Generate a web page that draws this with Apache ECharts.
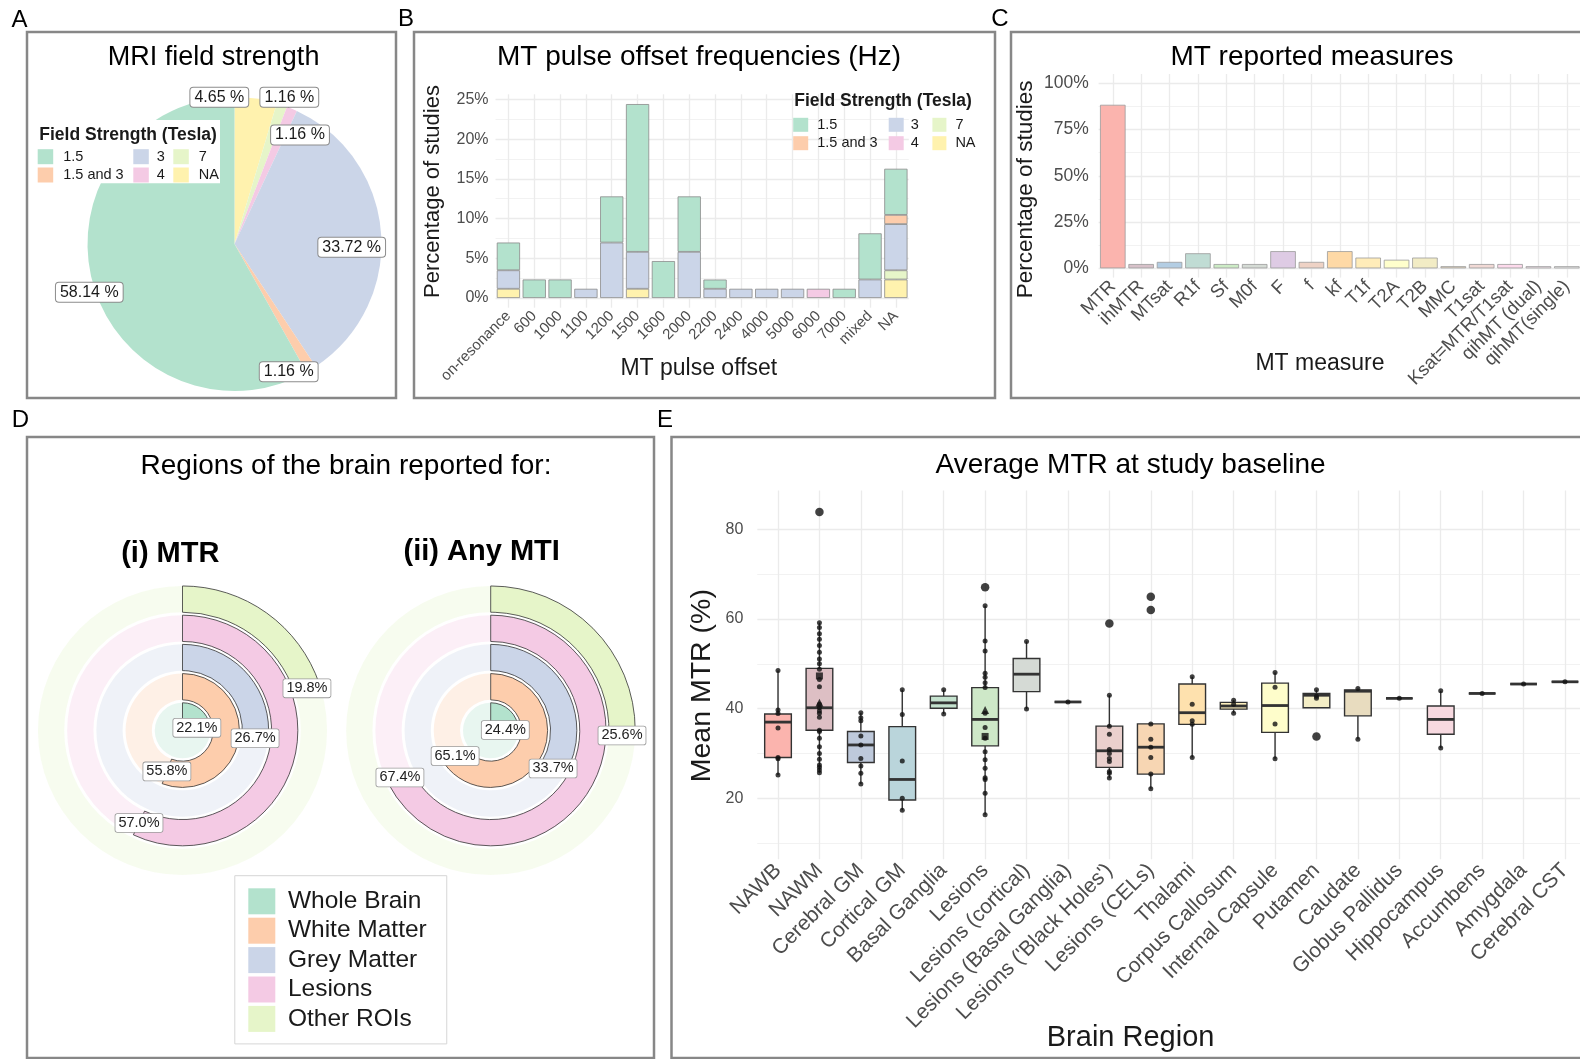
<!DOCTYPE html>
<html>
<head>
<meta charset="utf-8">
<title>MT imaging literature overview</title>
<script src="https://cdn.jsdelivr.net/npm/echarts@6/dist/echarts.min.js"></script>
<style>
  html, body { margin: 0; padding: 0; background: #ffffff; }
  #main { width: 1580px; height: 1059px; }
</style>
</head>
<body>
<div id="main"></div>
<script>
// ---------- data ----------
// A / B: field strength groups
const fieldStrengths = ['1.5', '1.5 and 3', '3', '4', '7', 'NA'];
const fieldStrengthShare = [58.14, 1.16, 33.72, 1.16, 1.16, 4.65];

// B: MT pulse offset (% of studies), split by field strength
const offsetLabels = ['on-resonance', '600', '1000', '1100', '1200', '1500', '1600', '2000',
  '2200', '2400', '4000', '5000', '6000', '7000', 'mixed', 'NA'];
const offsetShare_1_5    = [3.49, 2.33, 2.33, null, 5.81, 18.60, 4.65, 6.98, 1.16, null, null, null, null, 1.16, 5.81, 5.81];
const offsetShare_1_5and3 = [null, null, null, null, null, null, null, null, null, null, null, null, null, null, null, 1.16];
const offsetShare_3      = [2.33, null, null, 1.16, 6.98, 4.65, null, 5.81, 1.16, 1.16, 1.16, 1.16, null, null, 2.33, 5.81];
const offsetShare_4      = [null, null, null, null, null, null, null, null, null, null, null, null, 1.16, null, null, null];
const offsetShare_7      = [null, null, null, null, null, null, null, null, null, null, null, null, null, null, null, 1.16];
const offsetShare_NA     = [1.16, null, null, null, null, 1.16, null, null, null, null, null, null, null, null, null, 2.33];
const offsetTicks = [0, 5, 10, 15, 20, 25];

// C: reported MT measures (% of studies)
const measures = ['MTR', 'ihMTR', 'MTsat', 'R1f', 'Sf', 'M0f', 'F', 'f', 'kf', 'T1f', 'T2A', 'T2B',
  'MMC', 'T1sat', 'Ksat=MTR/T1sat', 'qihMT (dual)', 'qihMT(single)'];
const measureShare = [88.37, 2.33, 3.49, 8.14, 2.33, 2.33, 9.30, 3.49, 9.30, 5.81, 4.65, 5.81,
  1.16, 2.33, 2.33, 1.16, 1.16];
const measureTicks = [0, 25, 50, 75, 100];

// D: brain regions reported (% of studies)
const brainRegions = ['Whole Brain', 'White Matter', 'Grey Matter', 'Lesions', 'Other ROIs'];
const regionShareMTR = [22.1, 55.8, 26.7, 57.0, 19.8];
const regionShareAnyMTI = [24.4, 65.1, 33.7, 67.4, 25.6];

// E: mean baseline MTR per region
const mtrRegions = ['NAWB', 'NAWM', 'Cerebral GM', 'Cortical GM', 'Basal Ganglia', 'Lesions',
  'Lesions (cortical)', 'Lesions (Basal Ganglia)', "Lesions ('Black Holes')", 'Lesions (CELs)',
  'Thalami', 'Corpus Callosum', 'Internal Capsule', 'Putamen', 'Caudate', 'Globus Pallidus',
  'Hippocampus', 'Accumbens', 'Amygdala', 'Cerebral CST'];
// [lower whisker, Q1, median, Q3, upper whisker]
const mtrBoxStats = [
  [25.2, 29.1, 37.0, 38.8, 48.5],
  [25.7, 35.2, 40.2, 49.0, 59.2],
  [23.2, 28.0, 31.9, 34.9, 39.1],
  [17.3, 19.6, 24.2, 36.0, 44.2],
  [38.8, 40.1, 41.3, 42.8, 44.2],
  [16.3, 31.7, 37.6, 44.7, 63.0],
  [39.9, 43.8, 47.7, 51.2, 55.0],
  [41.5, 41.5, 41.5, 41.5, 41.5],
  [24.5, 26.9, 30.6, 36.1, 43.0],
  [22.1, 25.4, 31.4, 36.6, 36.6],
  [29.1, 36.5, 39.1, 45.5, 47.1],
  [39.0, 39.9, 40.6, 41.4, 41.9],
  [28.8, 34.7, 40.7, 45.7, 48.1],
  [40.2, 40.2, 43.0, 43.4, 44.2],
  [33.2, 38.4, 43.9, 44.2, 44.5],
  [42.3, 42.3, 42.3, 42.3, 42.3],
  [31.2, 34.3, 37.6, 40.6, 44.0],
  [43.4, 43.4, 43.4, 43.4, 43.4],
  [45.5, 45.5, 45.5, 45.5, 45.5],
  [46.0, 46.0, 46.0, 46.0, 46.0]
];
// individual study means
const mtrStudyValues = [
  [48.5, 39.7, 38.9, 35.7, 29.1, 28.8, 25.2],
  [59.2, 58.1, 56.7, 55.5, 54.1, 52.6, 51.1, 50.0, 48.8, 46.5, 44.9, 41.0, 40.2, 39.5, 39.0, 38.1,
   35.2, 34.9, 33.4, 31.5, 30.0, 28.7, 27.4, 26.9, 26.3, 25.7],
  [39.1, 38.0, 37.3, 33.9, 31.9, 28.9, 27.2, 25.6, 23.2],
  [44.2, 38.7, 28.3, 20.0, 17.3],
  [44.2, 38.8],
  [63.0, 55.1, 52.9, 47.9, 47.0, 45.8, 44.7, 39.0, 35.8, 33.4, 30.4, 28.6, 26.7, 24.6, 24.2, 21.1, 16.3],
  [55.0, 39.9],
  [41.5],
  [43.0, 36.1, 34.3, 30.9, 30.0, 28.9, 28.2, 26.0, 25.6, 24.5],
  [36.6, 33.2, 31.4, 29.1, 25.4, 22.1],
  [47.1, 41.0, 37.3, 36.5, 29.1],
  [41.9, 41.0, 39.0],
  [48.1, 44.8, 36.6, 28.8],
  [44.2, 42.8, 42.3],
  [44.5, 33.2],
  [42.3],
  [44.0, 31.2],
  [43.4],
  [45.5],
  [46.0]
];
const mtrOutliers = [[], [83.9], [], [], [], [67.1], [], [], [59.0], [65.0, 62.0],
  [], [], [], [33.8], [], [], [], [], [], []];
const mtrTriangles = [[], [41.3], [], [], [], [39.7], [], [], [], [], [], [], [], [], [], [], [], [], [], []];
const mtrSquares = [[], [47.3], [], [], [], [33.8], [], [], [], [], [], [], [], [], [], [], [], [], [], []];
const mtrTicks = [20, 40, 60, 80];

// ---------- styling helpers ----------
const FONT = '"Liberation Sans", Arial, Helvetica, sans-serif';
const INK = '#1a1a1a';
const AXIS_TEXT = '#4d4d4d';
const GRID_MAJOR = '#ebebeb';
const GRID_MINOR = '#f1f1f1';
const EDGE = '#333333';

const pastel2 = ['#B3E2CD', '#FDCDAC', '#CBD5E8', '#F4CAE4', '#E6F5C9', '#FFF2AE'];
const pastel1 = ['#FBB4AE', '#B3CDE3', '#CCEBC5', '#DECBE4', '#FED9A6', '#FFFFCC', '#E5D8BD', '#FDDAEC', '#F2F2F2'];

function hexToRgb(h) {
  const n = parseInt(h.slice(1), 16);
  return [(n >> 16) & 255, (n >> 8) & 255, n & 255];
}
function rampPalette(cols, n) {
  const rgb = cols.map(hexToRgb);
  const out = [];
  for (let i = 0; i < n; i++) {
    const t = n === 1 ? 0 : i * (cols.length - 1) / (n - 1);
    const k = Math.min(Math.floor(t), cols.length - 2);
    const f = t - k;
    const c = rgb[k].map((v, j) => Math.round(v + (rgb[k + 1][j] - v) * f));
    out.push('rgb(' + c.join(',') + ')');
  }
  return out;
}
function tint(hex, a) {
  const c = hexToRgb(hex);
  return 'rgba(' + c.join(',') + ',' + a + ')';
}

const fieldColor = {};
fieldStrengths.forEach((f, i) => { fieldColor[f] = pastel2[i]; });
const measureColors = rampPalette(pastel1, measures.length);
const mtrColors = rampPalette(pastel1, mtrRegions.length);
const regionColors = pastel2.slice(0, 5);

// background grid drawn as reference lines under the marks
function gridSeries(idx, nCats, major, minor) {
  const data = [];
  major.forEach(v => data.push({ yAxis: v, lineStyle: { color: GRID_MAJOR, width: 1.3 } }));
  minor.forEach(v => data.push({ yAxis: v, lineStyle: { color: GRID_MINOR, width: 0.9 } }));
  for (let i = 0; i < nCats; i++) data.push({ xAxis: i, lineStyle: { color: GRID_MAJOR, width: 1.3 } });
  return {
    type: 'line', xAxisIndex: idx, yAxisIndex: idx, data: [], silent: true, z: 1,
    markLine: {
      silent: true, z: 1, symbol: ['none', 'none'], label: { show: false },
      emphasis: { disabled: true }, lineStyle: { type: 'solid' }, animation: false, data
    }
  };
}
function halves(ticks) {
  const out = [];
  for (let i = 0; i < ticks.length - 1; i++) out.push((ticks[i] + ticks[i + 1]) / 2);
  return out;
}

// ---------- A: pie ----------
const pieLabelAt = {
  'NA': [219.3, 97.3], '7': [289.3, 97.3], '4': [300, 135],
  '3': [351.7, 247.3], '1.5 and 3': [288.7, 371.7], '1.5': [89.3, 292.3]
};
const pieData = fieldStrengths.map((name, i) => {
  const item = { name, value: fieldStrengthShare[i], itemStyle: { color: fieldColor[name] } };
  if (name === '7') item.labelLine = { show: true, length: 4, length2: 2, lineStyle: { color: '#333', width: 1 } };
  return item;
}).reverse();

const pieSeries = {
  type: 'pie', center: [234.5, 244], radius: [0, 147], startAngle: 90, clockwise: true,
  avoidLabelOverlap: false, silent: true, z: 2, data: pieData,
  label: {
    show: true, formatter: p => p.value.toFixed(2) + ' %', fontFamily: FONT, fontSize: 16, color: INK,
    backgroundColor: '#ffffff', borderColor: '#8c8c8c', borderWidth: 1, borderRadius: 3, padding: [2, 4, 1, 4]
  },
  labelLine: { show: false },
  labelLayout: p => {
    const at = pieLabelAt[pieData[p.dataIndex].name];
    return { x: at[0], y: at[1], align: 'center', verticalAlign: 'middle' };
  }
};

// ---------- B: stacked bars ----------
const offsetStack = [
  ['NA', offsetShare_NA], ['7', offsetShare_7], ['4', offsetShare_4],
  ['3', offsetShare_3], ['1.5 and 3', offsetShare_1_5and3], ['1.5', offsetShare_1_5]
];
const offsetSeries = offsetStack.map(([name, vals]) => ({
  type: 'bar', name, stack: 'offset', xAxisIndex: 0, yAxisIndex: 0, data: vals, z: 2,
  barCategoryGap: '10%', silent: true,
  itemStyle: { color: fieldColor[name], borderColor: '#8a8a8a', borderWidth: 0.8 }
}));

// ---------- C: measures ----------
const measureSeries = {
  type: 'bar', xAxisIndex: 1, yAxisIndex: 1, z: 2, barCategoryGap: '10%', silent: true,
  data: measureShare.map((v, i) => ({ value: v, itemStyle: { color: measureColors[i] } })),
  itemStyle: { borderColor: '#9a9a9a', borderWidth: 0.8 }
};

// ---------- D: radial bars ----------
function radialSeries(polarIndex, shares) {
  const list = [{
    type: 'bar', coordinateSystem: 'polar', polarIndex, name: 'all', silent: true,
    barGap: '-100%', barCategoryGap: '10%', z: 2,
    data: brainRegions.map((r, i) => ({ value: 100, itemStyle: { color: tint(regionColors[i], 0.3) } }))
  }];
  brainRegions.forEach((r, i) => {
    list.push({
      type: 'bar', coordinateSystem: 'polar', polarIndex, name: r, silent: true,
      barGap: '-100%', barCategoryGap: '10%', z: 3,
      data: brainRegions.map((_, j) => (j === i ? shares[i] : '-')),
      itemStyle: { color: regionColors[i], borderColor: EDGE, borderWidth: 0.8 },
      label: {
        show: true, position: 'end', distance: 0, rotate: 0, formatter: p => Number(p.value).toFixed(1) + '%',
        fontFamily: FONT, fontSize: 14.5, color: '#222', align: 'center', verticalAlign: 'middle',
        backgroundColor: '#ffffff', borderColor: '#9a9a9a', borderWidth: 0.8, borderRadius: 2, padding: [2, 3, 1, 3]
      }
    });
  });
  return list;
}

// ---------- E: boxes + study points ----------
function renderBox(params, api) {
  const x = api.value(0);
  const lo = api.coord([x, api.value(1)]);
  const q1 = api.coord([x, api.value(2)]);
  const md = api.coord([x, api.value(3)]);
  const q3 = api.coord([x, api.value(4)]);
  const hi = api.coord([x, api.value(5)]);
  const half = api.size([1, 0])[0] * 0.322;
  const cx = md[0];
  return {
    type: 'group',
    children: [
      { type: 'line', shape: { x1: cx, y1: hi[1], x2: cx, y2: q3[1] }, style: { stroke: EDGE, lineWidth: 1.4 } },
      { type: 'line', shape: { x1: cx, y1: q1[1], x2: cx, y2: lo[1] }, style: { stroke: EDGE, lineWidth: 1.4 } },
      { type: 'rect', shape: { x: cx - half, y: q3[1], width: half * 2, height: q1[1] - q3[1] },
        style: { fill: mtrColors[params.dataIndex], stroke: EDGE, lineWidth: 1.4 } },
      { type: 'line', shape: { x1: cx - half, y1: md[1], x2: cx + half, y2: md[1] }, style: { stroke: EDGE, lineWidth: 2.8 } }
    ]
  };
}
const boxSeries = {
  type: 'custom', xAxisIndex: 2, yAxisIndex: 2, z: 2, silent: true, renderItem: renderBox,
  encode: { x: 0, y: [1, 2, 3, 4, 5] },
  data: mtrBoxStats.map((b, i) => [i].concat(b))
};
function pointsOf(lists) {
  const out = [];
  lists.forEach((vals, i) => vals.forEach(v => out.push([i, v])));
  return out;
}
const pointStyle = { color: '#111111' };
const studySeries = [
  { type: 'scatter', xAxisIndex: 2, yAxisIndex: 2, z: 4, silent: true, symbol: 'circle', symbolSize: 5,
    itemStyle: pointStyle, data: pointsOf(mtrStudyValues) },
  { type: 'scatter', xAxisIndex: 2, yAxisIndex: 2, z: 4, silent: true, symbol: 'circle', symbolSize: 8.5,
    itemStyle: pointStyle, data: pointsOf(mtrOutliers) },
  { type: 'scatter', xAxisIndex: 2, yAxisIndex: 2, z: 4, silent: true, symbol: 'triangle', symbolSize: 8,
    itemStyle: pointStyle, data: pointsOf(mtrTriangles) },
  { type: 'scatter', xAxisIndex: 2, yAxisIndex: 2, z: 4, silent: true, symbol: 'rect', symbolSize: 7,
    itemStyle: pointStyle, data: pointsOf(mtrSquares) }
];

// ---------- axes ----------
function catAxis(gridIndex, data, fontSize, margin) {
  return {
    gridIndex, type: 'category', data, boundaryGap: true,
    axisLine: { show: false }, axisTick: { show: false }, splitLine: { show: false },
    axisLabel: { interval: 0, rotate: 45, fontFamily: FONT, fontSize, color: AXIS_TEXT, margin }
  };
}
function valAxis(gridIndex, min, max, ticks, fmt, fontSize, margin) {
  return {
    gridIndex, type: 'value', min, max,
    axisLine: { show: false }, axisTick: { show: false }, splitLine: { show: false }, minorSplitLine: { show: false },
    axisLabel: { customValues: ticks, formatter: fmt, fontFamily: FONT, fontSize, color: AXIS_TEXT, margin }
  };
}

// ---------- legends ----------
function keyLegend(names, left, top, w, h, gap, fontSize, textGap) {
  return {
    data: names, orient: 'vertical', left, top, padding: 0, icon: 'rect',
    itemWidth: w, itemHeight: h, itemGap: gap, itemStyle: { borderWidth: 0 },
    textStyle: { fontFamily: FONT, fontSize, color: INK, padding: [0, 0, 0, textGap] }
  };
}

// ---------- text and frames ----------
function label(text, x, y, size, opt) {
  opt = opt || {};
  return {
    type: 'text', x, y, rotation: opt.rot || 0, z: 10, silent: true,
    style: {
      text, fontFamily: FONT, fontSize: size, fontWeight: opt.bold ? 'bold' : 'normal',
      fill: opt.color || '#000000', align: opt.align || 'center', verticalAlign: 'middle'
    }
  };
}
function frame(x, y, w, h) {
  return { type: 'rect', z: 10, silent: true, shape: { x, y, width: w, height: h },
    style: { fill: 'none', stroke: '#878787', lineWidth: 2.5 } };
}

const option = {
  animation: false,
  backgroundColor: '#ffffff',
  textStyle: { fontFamily: FONT },
  grid: [
    { left: 495.5, top: 94.3, width: 413.3, height: 213.4, outerBoundsMode: 'none' },
    { left: 1098.6, top: 74, width: 482.4, height: 203.6, outerBoundsMode: 'none' },
    { left: 757.3, top: 490.5, width: 828.4, height: 368.7, outerBoundsMode: 'none' }
  ],
  xAxis: [
    catAxis(0, offsetLabels, 15, 6),
    catAxis(1, measures, 18.5, 6),
    catAxis(2, mtrRegions, 21, 8)
  ],
  yAxis: [
    valAxis(0, -1.221, 25.64, offsetTicks, v => v + '%', 16, 7),
    valAxis(1, -5, 105, measureTicks, v => v + '%', 17.5, 9.8),
    valAxis(2, 6.4, 88.7, mtrTicks, v => String(v), 16, 14)
  ],
  polar: [
    { center: [182.5, 730.5], radius: [0, 146] },
    { center: [490.7, 730.5], radius: [0, 146] }
  ],
  angleAxis: [
    { polarIndex: 0, type: 'value', min: 0, max: 100, startAngle: 90, clockwise: true, show: false },
    { polarIndex: 1, type: 'value', min: 0, max: 100, startAngle: 90, clockwise: true, show: false }
  ],
  radiusAxis: [
    { polarIndex: 0, type: 'category', data: brainRegions, show: false },
    { polarIndex: 1, type: 'category', data: brainRegions, show: false }
  ],
  legend: [
    keyLegend(['1.5', '1.5 and 3'], 37.7, 149.2, 15.5, 15, 3.3, 14.5, 5),
    keyLegend(['3', '4'], 133.3, 149.2, 15.5, 15, 3.3, 14.5, 3),
    keyLegend(['7', 'NA'], 173.3, 149.2, 15.5, 15, 3.3, 14.5, 5),
    keyLegend(['1.5', '1.5 and 3'], 793.2, 117.3, 15, 14, 3.4, 14.5, 4),
    keyLegend(['3', '4'], 888.7, 117.3, 15, 14, 3.4, 14.5, 2),
    keyLegend(['7', 'NA'], 932.4, 117.3, 14, 14, 3.4, 14.5, 4),
    Object.assign(keyLegend(brainRegions, 234.8, 875.7, 27, 26, 3.4, 24.5, 7.6), {
      padding: [12.6, 20, 12, 13.5], borderColor: '#d6d6d6', borderWidth: 1
    })
  ],
  graphic: {
    elements: [
      // white panel behind the pie legend
      { type: 'rect', z: 3, silent: true, shape: { x: 35, y: 120, width: 185, height: 63.3 }, style: { fill: '#ffffff' } },
      frame(27, 32, 369, 366),
      frame(414, 32, 581, 366),
      frame(1011, 32, 620, 366),
      frame(27, 437, 627, 621),
      frame(671.5, 437, 960, 621),
      label('A', 19.5, 20, 24),
      label('B', 406, 19, 24),
      label('C', 1000, 19, 24),
      label('D', 20.5, 420, 24),
      label('E', 665, 420, 24),
      label('MRI field strength', 213.6, 57.4, 27),
      label('Field Strength (Tesla)', 39.3, 135, 17.5, { bold: true, align: 'left', color: INK }),
      label('MT pulse offset frequencies (Hz)', 699, 57.4, 28),
      label('Field Strength (Tesla)', 794.3, 101, 17.5, { bold: true, align: 'left', color: INK }),
      label('Percentage of studies', 433.3, 191.5, 22, { rot: Math.PI / 2, color: INK }),
      label('MT pulse offset', 698.8, 368.8, 23, { color: INK }),
      label('MT reported measures', 1312, 57.4, 28),
      label('Percentage of studies', 1025.8, 189.4, 22.5, { rot: Math.PI / 2, color: INK }),
      label('MT measure', 1320, 363.8, 23, { color: INK }),
      label('Regions of the brain reported for:', 346, 466.5, 28),
      label('(i) MTR', 170.3, 554, 29, { bold: true }),
      label('(ii) Any MTI', 481.7, 552, 29, { bold: true }),
      label('Average MTR at study baseline', 1130.6, 465.5, 28),
      label('Mean MTR (%)', 702.4, 685.7, 28.5, { rot: Math.PI / 2, color: INK }),
      label('Brain Region', 1130.6, 1038, 29, { color: INK })
    ]
  },
  series: [
    pieSeries,
    gridSeries(0, offsetLabels.length, offsetTicks, halves(offsetTicks)),
    gridSeries(1, measures.length, measureTicks, halves(measureTicks)),
    gridSeries(2, mtrRegions.length, mtrTicks, [10, 30, 50, 70]),
    ...offsetSeries,
    measureSeries,
    ...radialSeries(0, regionShareMTR),
    ...radialSeries(1, regionShareAnyMTI),
    boxSeries,
    ...studySeries
  ]
};

const chart = echarts.init(document.getElementById('main'), null, { renderer: 'canvas', width: 1580, height: 1059 });
chart.setOption(option);
</script>
</body>
</html>
